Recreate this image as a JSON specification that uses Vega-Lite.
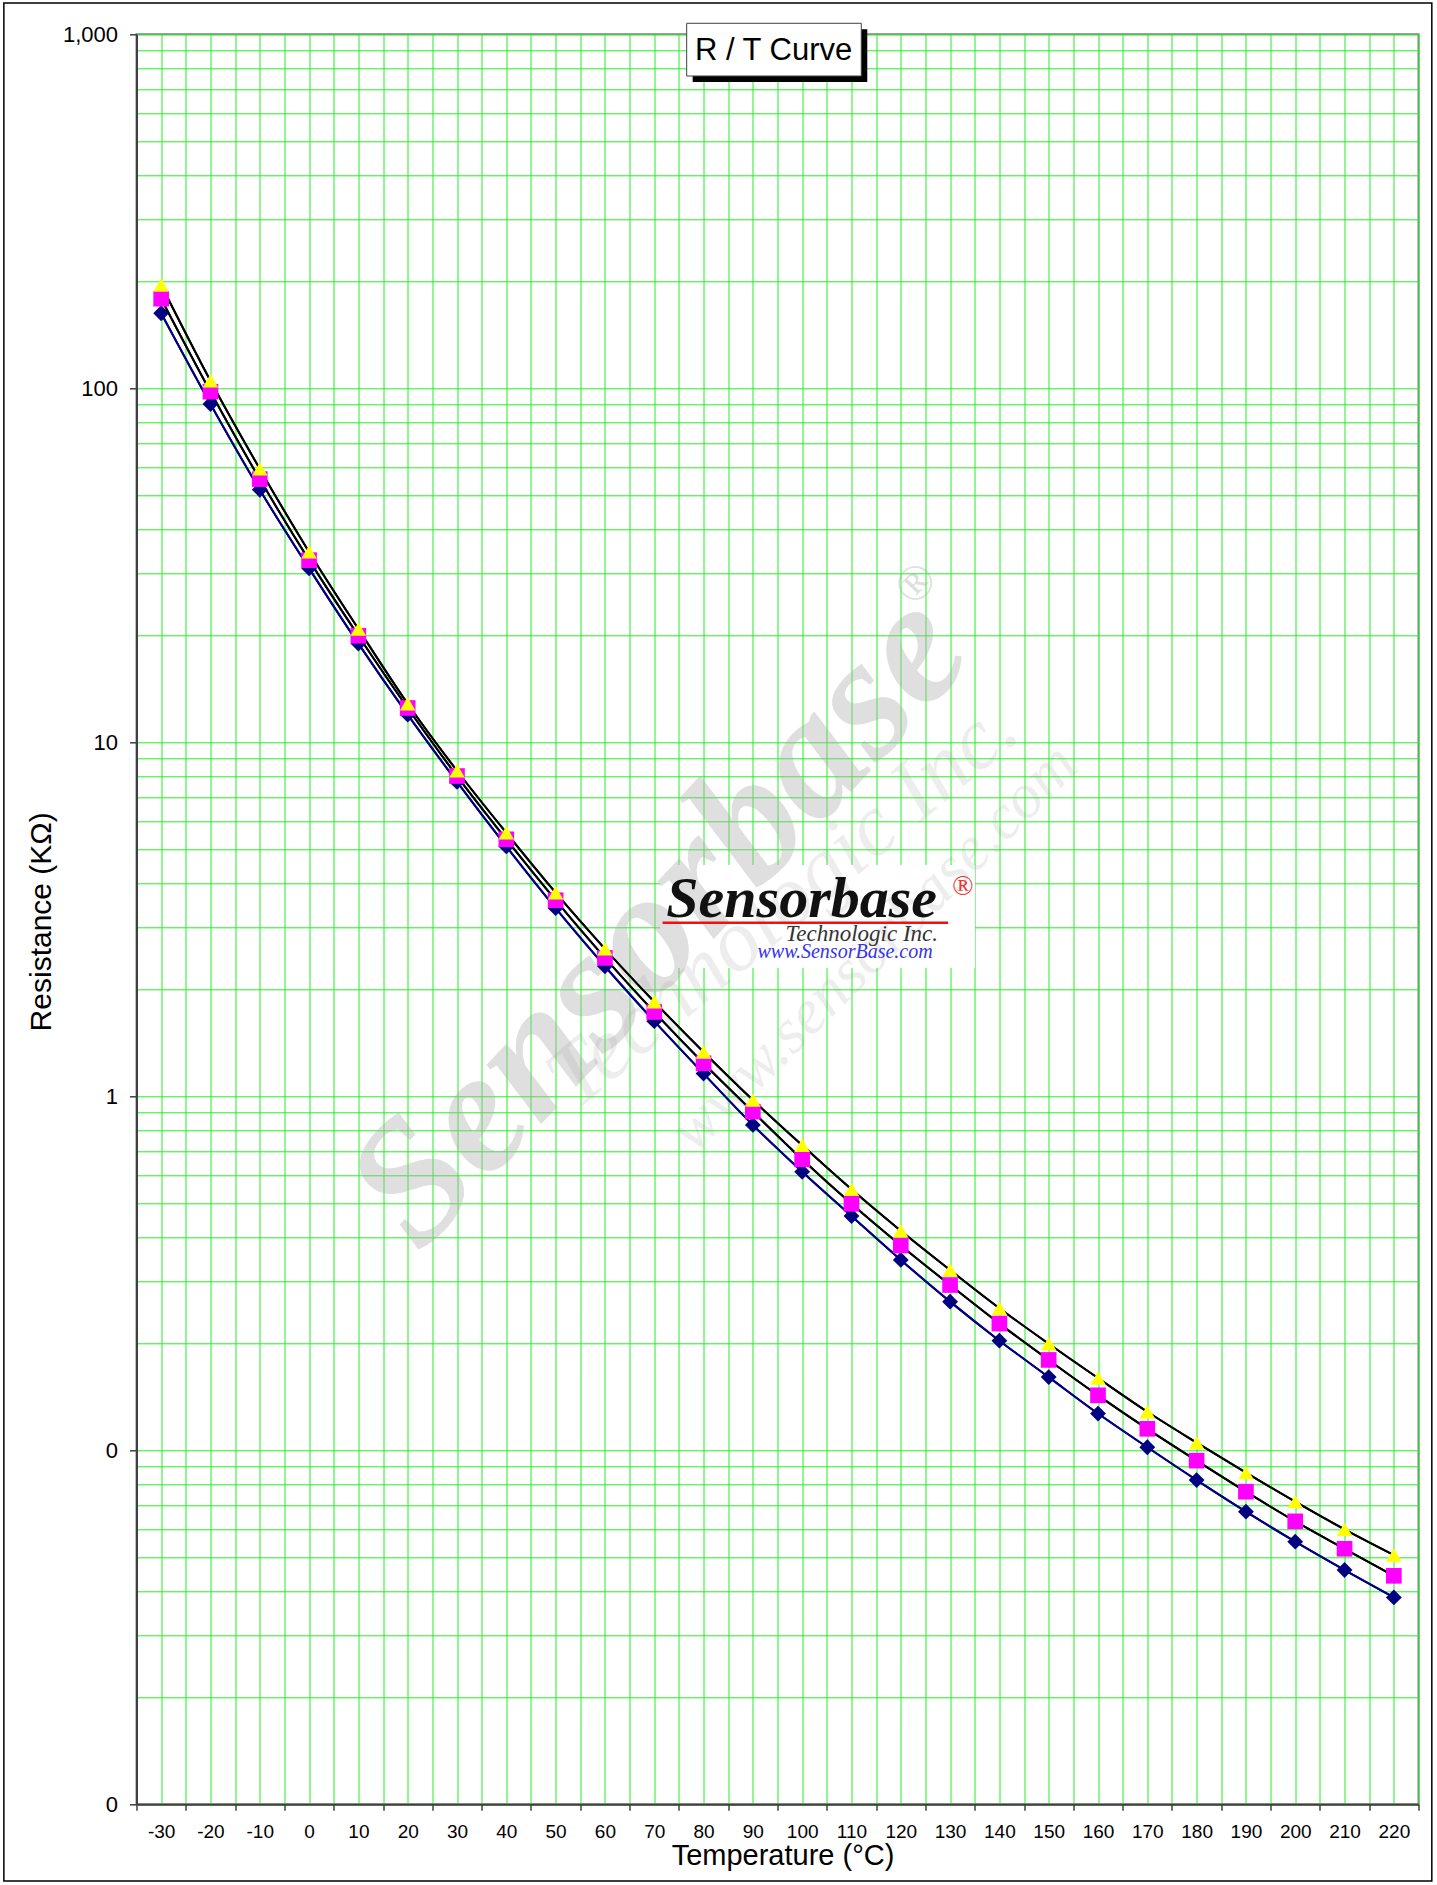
{
  "$schema": "https://vega.github.io/schema/vega-lite/v6.json",
  "width": 1282,
  "height": 1770,
  "autosize": {"type": "none"},
  "padding": {"left": 136.5, "top": 34.3, "right": 18.5, "bottom": 80.7},
  "background": "#ffffff",
  "config": {
    "font": "Liberation Sans",
    "view": {"stroke": "#808080", "strokeWidth": 2}
  },
  "resolve": {"axis": {"x": "independent"}},
  "datasets": {
    "rt": [
      {"t": -30, "s": "min", "r": 162.9}, {"t": -20, "s": "min", "r": 90.3}, {"t": -10, "s": "min", "r": 51.7},
      {"t": 0, "s": "min", "r": 31.0}, {"t": 10, "s": "min", "r": 19.0}, {"t": 20, "s": "min", "r": 11.97},
      {"t": 30, "s": "min", "r": 7.73}, {"t": 40, "s": "min", "r": 5.08}, {"t": 50, "s": "min", "r": 3.40},
      {"t": 60, "s": "min", "r": 2.33}, {"t": 70, "s": "min", "r": 1.63}, {"t": 80, "s": "min", "r": 1.159},
      {"t": 90, "s": "min", "r": 0.830}, {"t": 100, "s": "min", "r": 0.612}, {"t": 110, "s": "min", "r": 0.459},
      {"t": 120, "s": "min", "r": 0.345}, {"t": 130, "s": "min", "r": 0.263}, {"t": 140, "s": "min", "r": 0.204},
      {"t": 150, "s": "min", "r": 0.161}, {"t": 160, "s": "min", "r": 0.127}, {"t": 170, "s": "min", "r": 0.102},
      {"t": 180, "s": "min", "r": 0.0824}, {"t": 190, "s": "min", "r": 0.0671}, {"t": 200, "s": "min", "r": 0.0552},
      {"t": 210, "s": "min", "r": 0.0459}, {"t": 220, "s": "min", "r": 0.0384},
      {"t": -30, "s": "nom", "r": 179.1}, {"t": -20, "s": "nom", "r": 97.8}, {"t": -10, "s": "nom", "r": 55.4},
      {"t": 0, "s": "nom", "r": 32.7}, {"t": 10, "s": "nom", "r": 20.0}, {"t": 20, "s": "nom", "r": 12.5},
      {"t": 30, "s": "nom", "r": 8.03}, {"t": 40, "s": "nom", "r": 5.32}, {"t": 50, "s": "nom", "r": 3.58},
      {"t": 60, "s": "nom", "r": 2.46}, {"t": 70, "s": "nom", "r": 1.73}, {"t": 80, "s": "nom", "r": 1.24},
      {"t": 90, "s": "nom", "r": 0.905}, {"t": 100, "s": "nom", "r": 0.664}, {"t": 110, "s": "nom", "r": 0.497},
      {"t": 120, "s": "nom", "r": 0.379}, {"t": 130, "s": "nom", "r": 0.293}, {"t": 140, "s": "nom", "r": 0.228},
      {"t": 150, "s": "nom", "r": 0.180}, {"t": 160, "s": "nom", "r": 0.143}, {"t": 170, "s": "nom", "r": 0.115},
      {"t": 180, "s": "nom", "r": 0.0935}, {"t": 190, "s": "nom", "r": 0.0764}, {"t": 200, "s": "nom", "r": 0.0630},
      {"t": 210, "s": "nom", "r": 0.0527}, {"t": 220, "s": "nom", "r": 0.0442},
      {"t": -30, "s": "max", "r": 195.8}, {"t": -20, "s": "max", "r": 105.0}, {"t": -10, "s": "max", "r": 59.2},
      {"t": 0, "s": "max", "r": 34.5}, {"t": 10, "s": "max", "r": 20.9}, {"t": 20, "s": "max", "r": 12.85},
      {"t": 30, "s": "max", "r": 8.31}, {"t": 40, "s": "max", "r": 5.55}, {"t": 50, "s": "max", "r": 3.76},
      {"t": 60, "s": "max", "r": 2.61}, {"t": 70, "s": "max", "r": 1.85}, {"t": 80, "s": "max", "r": 1.334},
      {"t": 90, "s": "max", "r": 0.976}, {"t": 100, "s": "max", "r": 0.727}, {"t": 110, "s": "max", "r": 0.546},
      {"t": 120, "s": "max", "r": 0.417}, {"t": 130, "s": "max", "r": 0.323}, {"t": 140, "s": "max", "r": 0.252},
      {"t": 150, "s": "max", "r": 0.200}, {"t": 160, "s": "max", "r": 0.160}, {"t": 170, "s": "max", "r": 0.1285},
      {"t": 180, "s": "max", "r": 0.1051}, {"t": 190, "s": "max", "r": 0.0865}, {"t": 200, "s": "max", "r": 0.0716},
      {"t": 210, "s": "max", "r": 0.0598}, {"t": 220, "s": "max", "r": 0.0506}
    ]
  },
  "layer": [
    {
      "data": {"name": "rt"},
      "mark": {"type": "line", "interpolate": "monotone", "strokeWidth": 2},
      "encoding": {
        "x": {
          "field": "t", "type": "quantitative",
          "scale": {"domain": [-35, 225], "nice": false, "zero": false},
          "axis": {
            "orient": "bottom",
            "values": [-30,-20,-10,0,10,20,30,40,50,60,70,80,90,100,110,120,130,140,150,160,170,180,190,200,210,220],
            "title": "Temperature (°C)",
            "titleFont": "Liberation Sans", "titleFontSize": 29, "titleFontWeight": "normal", "titleColor": "#000000",
            "titleBaseline": "alphabetic", "titleY": 60, "titleX": 646, "titleAlign": "center",
            "labelFont": "Liberation Sans", "labelFontSize": 19, "labelColor": "#000000", "labelPadding": 12,
            "labelExpr": "replace(datum.label, '−', '-')",
            "labelAngle": 0, "labelOverlap": false, "labelFlush": false, "labelBound": false,
            "ticks": true, "tickSize": 6, "tickOpacity": 0,
            "grid": false,
            "domainColor": "#404040", "domainWidth": 2
          }
        },
        "y": {
          "field": "r", "type": "quantitative",
          "scale": {"type": "log", "domain": [0.01, 1000], "nice": false},
          "axis": {
            "values": [0.01,0.02,0.03,0.04,0.05,0.06,0.07,0.08,0.09,0.1,0.2,0.3,0.4,0.5,0.6,0.7,0.8,0.9,1,2,3,4,5,6,7,8,9,10,20,30,40,50,60,70,80,90,100,200,300,400,500,600,700,800,900,1000],
            "title": "Resistance (KΩ)",
            "titleFont": "Liberation Sans", "titleFontSize": 30, "titleFontWeight": "normal", "titleColor": "#000000",
            "titleAngle": -90, "titleBaseline": "alphabetic", "titleAlign": "center", "titleX": -86, "titleY": 887,
            "labelFont": "Liberation Sans", "labelFontSize": 22, "labelColor": "#000000", "labelPadding": 12,
            "labelExpr": "indexof([0.01,0.1,1,10,100,1000], datum.value) >= 0 ? format(datum.value, ',.0f') : ''",
            "labelOverlap": false, "labelFlush": false, "labelBound": false,
            "ticks": true, "tickSize": 7, "tickColor": "#404040", "tickWidth": 1.5,
            "tickOpacity": {"condition": {"test": "indexof([0.01,0.1,1,10,100,1000], datum.value) >= 0", "value": 1}, "value": 0},
            "grid": true, "gridColor": "#22ee22", "gridWidth": 1, "gridOpacity": 1,
            "domainColor": "#404040", "domainWidth": 2
          }
        },
        "stroke": {
          "field": "s", "type": "nominal",
          "scale": {"domain": ["min", "nom", "max"], "range": ["#000080", "#000000", "#000000"]},
          "legend": null
        }
      }
    },
    {
      "data": {"values": [{}]},
      "mark": {"type": "rect", "fillOpacity": 0, "stroke": "#000000", "strokeWidth": 1.5},
      "encoding": {
        "x": {"datum": -61.9, "axis": null}, "x2": {"datum": 227.7},
        "y": {"datum": 1226}, "y2": {"datum": 0.00607}
      }
    },
    {
      "data": {"values": [{}]},
      "mark": {"type": "rect", "fill": "#ffffff", "strokeWidth": 0},
      "encoding": {
        "x": {"datum": 71.17, "axis": null}, "x2": {"datum": 135.05},
        "y": {"datum": 4.502}, "y2": {"datum": 2.304}
      }
    },
    {
      "data": {"values": [{}]},
      "mark": {"type": "text", "text": "Sensorbase", "font": "Liberation Serif", "fontWeight": "bold", "fontStyle": "italic", "fontSize": 175, "angle": -47, "align": "center", "baseline": "middle", "fill": "#b0b0b0", "opacity": 0.4},
      "encoding": {"x": {"datum": 71.0, "axis": null}, "y": {"datum": 3.15}}
    },
    {
      "data": {"values": [{}]},
      "mark": {"type": "text", "text": "®", "font": "Liberation Serif", "fontSize": 50, "angle": -46, "align": "center", "baseline": "middle", "fill": "#b0b0b0", "opacity": 0.4},
      "encoding": {"x": {"datum": 123.1, "axis": null}, "y": {"datum": 28.0}}
    },
    {
      "data": {"values": [{}]},
      "mark": {"type": "text", "text": "Technologic Inc.", "font": "Liberation Serif", "fontStyle": "italic", "fontSize": 88, "angle": -40, "align": "center", "baseline": "middle", "fill": "#a0a0a0", "opacity": 0.18},
      "encoding": {"x": {"datum": 96.1, "axis": null}, "y": {"datum": 3.494}}
    },
    {
      "data": {"values": [{}]},
      "mark": {"type": "text", "text": "www.sensorbase.com", "font": "Liberation Serif", "fontStyle": "italic", "fontSize": 64, "angle": -45, "align": "center", "baseline": "middle", "fill": "#a0a0a0", "opacity": 0.18},
      "encoding": {"x": {"datum": 114.6, "axis": null}, "y": {"datum": 2.624}}
    },
    {
      "data": {"values": [{}]},
      "mark": {"type": "rule", "stroke": "#ee1111", "strokeWidth": 2.5},
      "encoding": {"x": {"datum": 71.7, "axis": null}, "x2": {"datum": 129.6}, "y": {"datum": 3.093}}
    },
    {
      "data": {"values": [{}]},
      "mark": {"type": "text", "text": "Sensorbase", "font": "Liberation Serif", "fontWeight": "bold", "fontStyle": "italic", "fontSize": 58, "align": "center", "baseline": "alphabetic", "fill": "#111111"},
      "encoding": {"x": {"datum": 99.9, "axis": null}, "y": {"datum": 3.217}}
    },
    {
      "data": {"values": [{}]},
      "mark": {"type": "text", "text": "®", "font": "Liberation Serif", "fontSize": 28, "align": "center", "baseline": "middle", "fill": "#ee3333"},
      "encoding": {"x": {"datum": 132.6, "axis": null}, "y": {"datum": 3.914}}
    },
    {
      "data": {"values": [{}]},
      "mark": {"type": "text", "text": "Technologic Inc.", "font": "Liberation Serif", "fontStyle": "italic", "fontSize": 23, "align": "center", "baseline": "alphabetic", "fill": "#333333"},
      "encoding": {"x": {"datum": 112.1, "axis": null}, "y": {"datum": 2.746}}
    },
    {
      "data": {"values": [{}]},
      "mark": {"type": "text", "text": "www.SensorBase.com", "font": "Liberation Serif", "fontStyle": "italic", "fontSize": 20, "align": "center", "baseline": "alphabetic", "fill": "#3333ee"},
      "encoding": {"x": {"datum": 108.7, "axis": null}, "y": {"datum": 2.459}}
    },
    {
      "data": {"name": "rt"},
      "mark": {"type": "line", "interpolate": "monotone", "strokeWidth": 2},
      "encoding": {
        "x": {
          "field": "t", "type": "quantitative",
          "axis": {
            "orient": "bottom",
            "values": [-35,-30,-25,-20,-15,-10,-5,0,5,10,15,20,25,30,35,40,45,50,55,60,65,70,75,80,85,90,95,100,105,110,115,120,125,130,135,140,145,150,155,160,165,170,175,180,185,190,195,200,205,210,215,220,225],
            "title": null, "labels": false, "ticks": false, "domain": false,
            "grid": true, "gridColor": "#22ee22", "gridWidth": 1, "gridOpacity": 1
          }
        },
        "y": {"field": "r", "type": "quantitative"},
        "stroke": {"field": "s", "type": "nominal", "legend": null}
      }
    },
    {
      "data": {"name": "rt"},
      "mark": {"type": "point", "filled": true, "opacity": 1},
      "encoding": {
        "x": {
          "field": "t", "type": "quantitative",
          "axis": {
            "orient": "bottom",
            "values": [-35,-25,-15,-5,5,15,25,35,45,55,65,75,85,95,105,115,125,135,145,155,165,175,185,195,205,215,225],
            "title": null, "labels": false, "grid": false, "domain": false,
            "ticks": true, "tickSize": 6, "tickColor": "#404040", "tickWidth": 1.5
          }
        },
        "y": {"field": "r", "type": "quantitative"},
        "shape": {"field": "s", "type": "nominal", "scale": {"domain": ["min", "nom", "max"], "range": ["diamond", "square", "triangle-up"]}, "legend": null},
        "fill": {"field": "s", "type": "nominal", "scale": {"domain": ["min", "nom", "max"], "range": ["#000080", "#ff00ff", "#ffff00"]}, "legend": null},
        "size": {"field": "s", "type": "ordinal", "scale": {"domain": ["min", "nom", "max"], "range": [250, 240, 300]}, "legend": null}
      }
    },
    {
      "data": {"values": [{}]},
      "mark": {"type": "rect", "fill": "#000000", "xOffset": 6, "x2Offset": 6, "yOffset": 6, "y2Offset": 6},
      "encoding": {"x": {"datum": 76.58, "axis": null}, "x2": {"datum": 111.99}, "y": {"datum": 1074.3}, "y2": {"datum": 762.4}}
    },
    {
      "data": {"values": [{}]},
      "mark": {"type": "rect", "fill": "#ffffff", "stroke": "#404040", "strokeWidth": 1},
      "encoding": {"x": {"datum": 76.58, "axis": null}, "x2": {"datum": 111.99}, "y": {"datum": 1074.3}, "y2": {"datum": 762.4}}
    },
    {
      "data": {"values": [{}]},
      "mark": {"type": "text", "text": "R / T Curve", "font": "Liberation Sans", "fontSize": 31, "align": "center", "baseline": "alphabetic", "fill": "#000000"},
      "encoding": {"x": {"datum": 94.2, "axis": null}, "y": {"datum": 846.3}}
    }
  ]
}
